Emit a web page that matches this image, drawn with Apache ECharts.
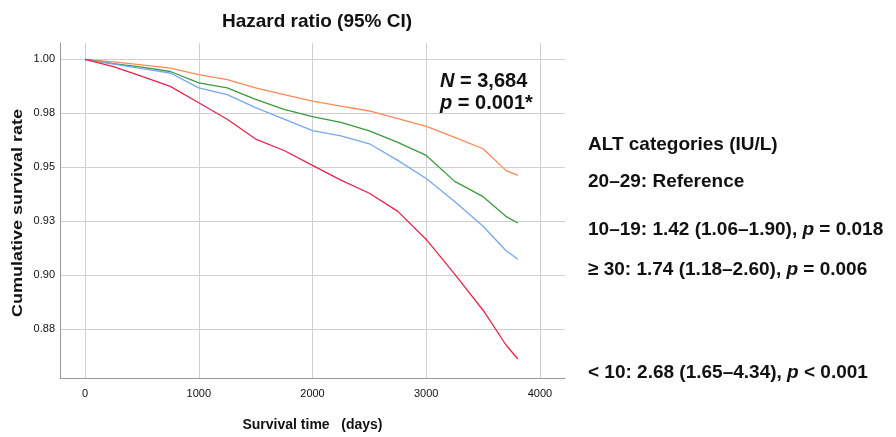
<!DOCTYPE html>
<html>
<head>
<meta charset="utf-8">
<script src="https://cdn.jsdelivr.net/npm/echarts@6/dist/echarts.min.js"></script>
<style>
  html, body { margin: 0; padding: 0; background: #fff; }
  #chart { width: 896px; height: 437px; }
</style>
</head>
<body>
<div id="chart"></div>
<script>
// Survival time (days) at which each curve was read
const days = [0, 250, 500, 750, 1000, 1250, 1500, 1750, 2000, 2250, 2500, 2750, 3000, 3250, 3500, 3700, 3805];

// Cumulative survival per ALT category
const alt2029 = [1, 0.9989, 0.9975, 0.996, 0.9929, 0.9906, 0.9868, 0.9837, 0.9807, 0.9784, 0.9761, 0.9726, 0.969, 0.9639, 0.9586, 0.9486, 0.9463];
const alt1019 = [1, 0.998, 0.9964, 0.9944, 0.9891, 0.9868, 0.9815, 0.9769, 0.9735, 0.9708, 0.9669, 0.9616, 0.9555, 0.9435, 0.9364, 0.9273, 0.9242];
const alt30 = [1, 0.9978, 0.9957, 0.9937, 0.9868, 0.9837, 0.9777, 0.9723, 0.967, 0.9646, 0.9609, 0.9532, 0.9448, 0.9342, 0.9227, 0.9115, 0.9074];
const alt10 = [1, 0.9967, 0.9921, 0.9875, 0.9799, 0.9723, 0.9631, 0.9578, 0.9509, 0.9441, 0.938, 0.9296, 0.9166, 0.9005, 0.8838, 0.8678, 0.8612];

// Tick positions and the labels printed for them
const xTicks = [0, 1000, 2000, 3000, 4000];
const yTicks = [0.875, 0.9, 0.925, 0.95, 0.975, 1.0];
const yTickLabels = ['0.88', '0.90', '0.93', '0.95', '0.98', '1.00'];

const chart = echarts.init(document.getElementById('chart'));

function pairs(vals) {
    return days.map(function (d, i) { return [d, vals[i]]; });
}

function curve(name, vals, color) {
    return {
        name: name,
        type: 'line',
        data: pairs(vals),
        showSymbol: false,
        lineStyle: { color: color, width: 1.3 },
        itemStyle: { color: color },
        silent: true
    };
}

const sans = "'Liberation Sans', Arial, sans-serif";

function note(x, y, text, rich) {
    return {
        type: 'text',
        left: x,
        top: y,
        style: {
            text: text,
            fontFamily: sans,
            fontSize: 19,
            fontWeight: 'bold',
            fill: '#111',
            rich: rich || {}
        }
    };
}

const ital19 = { i: { fontStyle: 'italic', fontWeight: 'bold', fontSize: 19, fontFamily: sans, fill: '#111' } };
const ital20 = { i: { fontStyle: 'italic', fontWeight: 'bold', fontSize: 20, fontFamily: sans, fill: '#111' } };

chart.setOption({
    animation: false,
    backgroundColor: '#fff',
    grid: { left: 60, right: 331, top: 43, bottom: 55 },
    xAxis: {
        type: 'value',
        min: -220,
        max: 4220,
        name: 'Survival time   (days)',
        nameLocation: 'middle',
        nameGap: 40,
        nameTextStyle: { fontFamily: sans, fontSize: 14, fontWeight: 'bold', color: '#111' },
        axisLine: { show: true, onZero: false, lineStyle: { color: '#9a9a9a' } },
        axisTick: { show: false, customValues: xTicks },
        axisLabel: {
            customValues: xTicks,
            fontFamily: sans,
            fontSize: 11,
            color: '#111',
            margin: 10,
            formatter: function (v) { return String(v); }
        },
        splitLine: { show: true, lineStyle: { color: '#d0d0d0', width: 1 } }
    },
    yAxis: {
        type: 'value',
        min: 0.8524,
        max: 1.0076,
        axisLine: { show: true, onZero: false, lineStyle: { color: '#9a9a9a' } },
        axisTick: { show: false, customValues: yTicks },
        axisLabel: {
            customValues: yTicks,
            fontFamily: sans,
            fontSize: 11,
            color: '#111',
            margin: 5,
            formatter: function (v) {
                const i = yTicks.findIndex(function (t) { return Math.abs(t - v) < 1e-6; });
                return i >= 0 ? yTickLabels[i] : '';
            }
        },
        splitLine: { show: true, lineStyle: { color: '#d0d0d0', width: 1 } }
    },
    series: [
        curve('20–29', alt2029, '#fa8a55'),
        curve('10–19', alt1019, '#3b9a3b'),
        curve('≥ 30', alt30, '#74a9f2'),
        curve('< 10', alt10, '#e5234f')
    ],
    graphic: [
        {
            type: 'text', x: 317, y: 22,
            style: {
                text: 'Hazard ratio (95% CI)', fontFamily: sans, fontSize: 19, fontWeight: 'bold',
                fill: '#111', align: 'center', verticalAlign: 'middle'
            }
        },
        {
            // y axis title, stretched along its length like the source figure
            type: 'text', x: 18, y: 213, rotation: Math.PI / 2, scaleX: 1.2,
            style: {
                text: 'Cumulative survival rate', fontFamily: sans, fontSize: 15, fontWeight: 'bold',
                fill: '#111', align: 'center', verticalAlign: 'middle'
            }
        },
        {
            type: 'text', left: 440, top: 71,
            style: { text: '{i|N} = 3,684', fontFamily: sans, fontSize: 20, fontWeight: 'bold', fill: '#111', rich: ital20 }
        },
        {
            type: 'text', left: 440, top: 93,
            style: { text: '{i|p} = 0.001*', fontFamily: sans, fontSize: 20, fontWeight: 'bold', fill: '#111', rich: ital20 }
        },
        note(588, 135, 'ALT categories (IU/L)'),
        note(588, 172, '20–29: Reference'),
        note(588, 220, '10–19: 1.42 (1.06–1.90), {i|p} = 0.018', ital19),
        note(588, 260, '≥ 30: 1.74 (1.18–2.60), {i|p} = 0.006', ital19),
        note(588, 363, '< 10: 2.68 (1.65–4.34), {i|p} < 0.001', ital19)
    ]
});
</script>
</body>
</html>
